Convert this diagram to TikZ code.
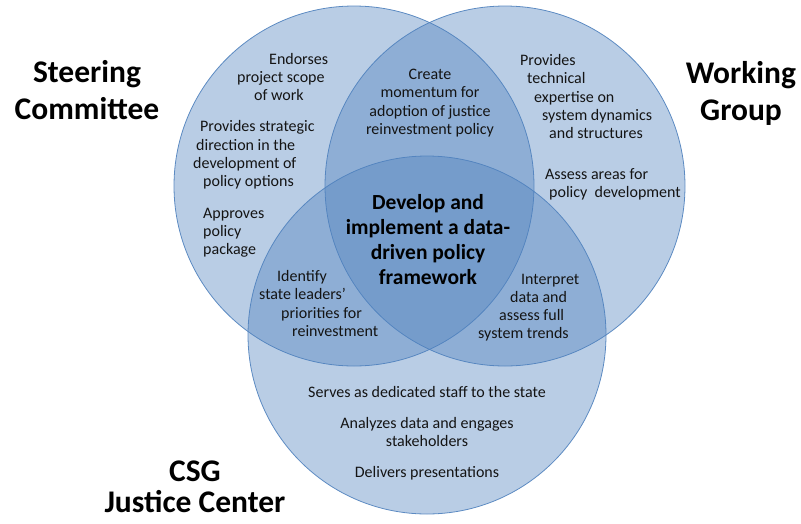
\documentclass[tikz,border=0pt]{standalone}
\usepackage{fontspec}
\setmainfont{Carlito}
\definecolor{vennblue}{RGB}{79,129,189}
\definecolor{venntext}{RGB}{20,20,20}
\begin{document}
\begin{tikzpicture}[x=1pt,y=-1pt,
  venn/.style={circle, fill=vennblue, fill opacity=0.4, draw=vennblue, draw opacity=0.9, line width=0.8pt, inner sep=0pt, minimum size=#1},
  small/.style={text=venntext, inner sep=0pt, font=\fontsize{16}{18.2}\selectfont},
  core/.style={text=black, inner sep=0pt, align=center, font=\fontsize{21.5}{25}\selectfont\bfseries},
  title/.style={text=black, inner sep=0pt, align=center, font=\fontsize{31.5}{37}\selectfont\bfseries}]
\useasboundingbox (0,0) rectangle (801,523);
% circles
\node[venn=360pt] (steer) at (354,186) {};
\node[venn=360pt] (work) at (505,186) {};
\node[venn=358pt] (csg) at (427,335) {};
% titles
\node[title] (tsteer) at (87,90) {Steering\\Committee};
\node[title] (twork) at (741,93) {Working\\Group};
\node[title, font=\fontsize{31.5}{31}\selectfont\bfseries] (tcsg) at (195,487) {CSG\\Justice Center};
% steering committee texts
\node[small, align=left, anchor=west] (s1) at (237,77) {\hspace*{32pt}Endorses\\project scope\\\hspace*{17pt}of work};
\node[small, align=left, anchor=west] (s2) at (193,155) {\hspace*{7pt}Provides strategic\\\hspace*{3pt}direction in the\\development of\\\hspace*{10pt}policy options};
\node[small, align=left, anchor=west] (s3) at (203,232.5) {Approves\\policy\\package};
% working group texts
\node[small, align=left, anchor=west] (w1) at (520,96.5) {Provides\\\hspace*{7pt}technical\\\hspace*{14pt}expertise on\\\hspace*{22pt}system dynamics\\\hspace*{29pt}and structures};
\node[small, align=left, anchor=west] (w2) at (545,184.5) {Assess areas for\\\hspace*{4pt}policy\ \ development};
% overlaps
\node[small, align=center] (sw) at (430,103) {Create\\momentum for\\adoption of justice\\reinvestment policy};
\node[small, align=left, anchor=west] (sc) at (259,303.5) {\hspace*{18pt}Identify\\state leaders’\\\hspace*{22pt}priorities for\\\hspace*{33pt}reinvestment};
\node[small, align=left, anchor=west] (wc) at (478,307.5) {\hspace*{43pt}Interpret\\\hspace*{32pt}data and\\\hspace*{21pt}assess full\\system trends};
\node[core] (all) at (428,240) {Develop and\\implement a data-\\driven policy\\framework};
% csg texts
\node[small] (c1) at (427,392) {Serves as dedicated staff to the state};
\node[small, align=center] (c2) at (427,432) {Analyzes data and engages\\stakeholders};
\node[small] (c3) at (427,473) {Delivers presentations};
\end{tikzpicture}
\end{document}
